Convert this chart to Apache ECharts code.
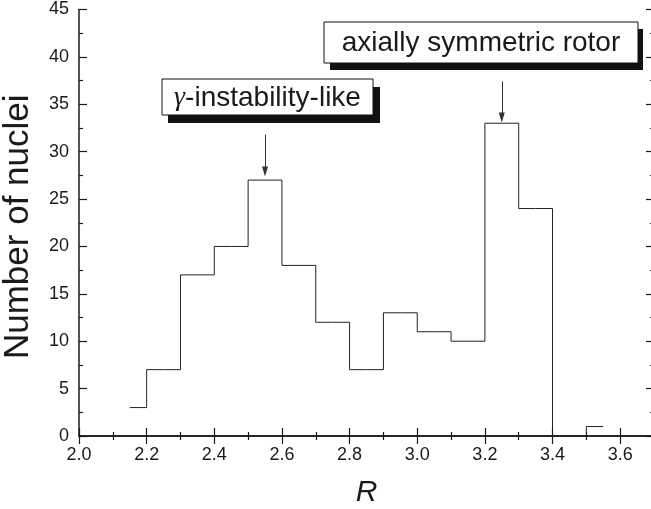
<!DOCTYPE html>
<html>
<head>
<meta charset="utf-8">
<script src="https://cdn.jsdelivr.net/npm/echarts@6/dist/echarts.min.js"></script>
<style>
html, body { margin: 0; padding: 0; background: #fff; }
#main { width: 651px; height: 509px; }
</style>
</head>
<body>
<div id="main"></div>
<script>
// 直方图数据（每格中心 R 值 与 核数）
var binCenters = [2.15, 2.25, 2.35, 2.45, 2.55, 2.65, 2.75, 2.85, 2.95, 3.05, 3.15, 3.25, 3.35, 3.45, 3.55];
var counts = [3, 7, 17, 20, 27, 18, 12, 7, 13, 11, 10, 33, 24, 0, 1];
// 箭头 [x, 起点y, 终点y]
var arrow1 = [2.55, 31.8, 27.9];
var arrow2 = [3.25, 37.4, 33.6];

var fontFam = '"Liberation Sans", Arial, Helvetica, sans-serif';
var ink = '#1a1a1a';

var seriesData = [];
for (var i = 0; i < binCenters.length; i++) {
	seriesData.push([binCenters[i], counts[i]]);
}

var myChart = echarts.init(document.getElementById('main'));

var xAxisBase = {
	type: 'value',
	min: 2.0,
	max: 3.7,
	interval: 0.2,
	axisLine: { show: true, lineStyle: { color: ink, width: 1.5 } },
	axisTick: { show: true, inside: true, length: 8, lineStyle: { color: ink, width: 1.2 } },
	minorTick: { show: true, splitNumber: 2, length: 4, lineStyle: { color: ink, width: 1.2 } },
	splitLine: { show: false },
	minorSplitLine: { show: false }
};
var yAxisBase = {
	type: 'value',
	min: 0,
	max: 45,
	interval: 5,
	axisLine: { show: true, lineStyle: { color: ink, width: 1.5 } },
	axisTick: { show: true, inside: true, length: 8, lineStyle: { color: ink, width: 1.2 } },
	minorTick: { show: true, splitNumber: 2, length: 4, lineStyle: { color: ink, width: 1.2 } },
	splitLine: { show: false },
	minorSplitLine: { show: false }
};

var option = {
	backgroundColor: '#fff',
	animation: false,
	grid: { left: 79, right: -3, top: 9.5, bottom: 73, containLabel: false, outerBoundsMode: 'none' },
	xAxis: [
		Object.assign({}, xAxisBase, {
			position: 'bottom',
			name: 'R',
			nameLocation: 'middle',
			nameGap: 42,
			nameTextStyle: { fontFamily: fontFam, fontSize: 30, fontStyle: 'italic', color: ink },
			axisLabel: {
				show: true, margin: 10, fontFamily: fontFam, fontSize: 18, color: ink,
				showMaxLabel: false,
				formatter: function(v) { return v.toFixed(1); }
			}
		}),
		Object.assign({}, xAxisBase, {
			position: 'top',
			axisLabel: { show: false }
		})
	],
	yAxis: [
		Object.assign({}, yAxisBase, {
			position: 'left',
			name: 'Number of nuclei',
			nameLocation: 'middle',
			nameGap: 43,
			nameTextStyle: { fontFamily: fontFam, fontSize: 35, color: ink, padding: [0, 8, 0, 0] },
			axisLabel: { show: true, margin: 10, fontFamily: fontFam, fontSize: 18, color: ink }
		}),
		Object.assign({}, yAxisBase, {
			position: 'right',
			axisLabel: { show: false }
		})
	],
	series: [{
		type: 'line',
		step: 'middle',
		data: seriesData,
		symbol: 'none',
		lineStyle: { color: '#222', width: 1 },
		markLine: {
			silent: true,
			symbol: ['none', 'triangle'],
			symbolSize: [6, 10],
			symbolRotate: 180,
			label: { show: false },
			lineStyle: { color: '#333', width: 1, type: 'solid' },
			data: [
				[{ coord: [arrow1[0], arrow1[1]] }, { coord: [arrow1[0], arrow1[2]] }],
				[{ coord: [arrow2[0], arrow2[1]] }, { coord: [arrow2[0], arrow2[2]] }]
			]
		}
	}],
	graphic: [
		// γ-instability-like 标注
		{ type: 'rect', shape: { x: 168, y: 87, width: 212, height: 36 }, style: { fill: '#111' }, z: 10 },
		{ type: 'rect', shape: { x: 162, y: 79, width: 211, height: 36 }, style: { fill: '#fff', stroke: '#111', lineWidth: 1 }, z: 11 },
		{
			type: 'text', x: 267.5, y: 98, z: 12,
			style: {
				text: '{g|γ}-instability-like',
				fontFamily: fontFam, fontSize: 28, fill: ink,
				align: 'center', verticalAlign: 'middle',
				rich: { g: { fontFamily: '"Liberation Serif", "Times New Roman", serif', fontStyle: 'italic', fontSize: 28, fill: ink } }
			}
		},
		// axially symmetric rotor 标注
		{ type: 'rect', shape: { x: 330, y: 29, width: 313, height: 41 }, style: { fill: '#111' }, z: 10 },
		{ type: 'rect', shape: { x: 324, y: 22, width: 314, height: 41 }, style: { fill: '#fff', stroke: '#111', lineWidth: 1 }, z: 11 },
		{
			type: 'text', x: 481, y: 43, z: 12,
			style: {
				text: 'axially symmetric rotor',
				fontFamily: fontFam, fontSize: 28, fill: ink,
				align: 'center', verticalAlign: 'middle'
			}
		}
	]
};
myChart.setOption(option);
</script>
</body>
</html>
